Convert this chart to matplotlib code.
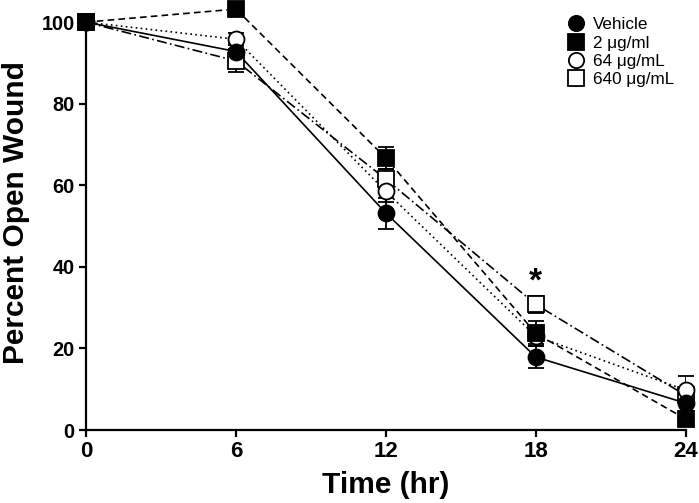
import matplotlib.pyplot as plt
import numpy as np

plt.rcParams['font.family'] = ['Liberation Sans', 'DejaVu Sans']

time = [0, 6, 12, 18, 24]
vehicle = [100, 92.8, 53.2, 17.9, 6.6]
vehicle_err = [0, 2.0, 3.8, 2.7, 2.0]
low = [100, 103.2, 66.7, 23.7, 2.7]
low_err = [0, 0, 2.8, 3.0, 1.5]
mid = [100, 95.8, 58.5, 23.0, 9.8]
mid_err = [0, 1.5, 2.5, 2.0, 3.4]
high = [100, 90.5, 61.5, 30.8, 8.5]
high_err = [0, 2.8, 2.5, 2.0, 2.0]
names = ['Vehicle', '2 \u03bcg/ml', '64 \u03bcg/mL', '640 \u03bcg/mL']

fig = plt.figure(figsize=(6.99, 5.03), dpi=100)
ax = fig.add_axes([0.123, 0.145, 0.858, 0.811])

series = [
    (high, high_err, 's', 'white', (0, (6, 2, 1, 2)), names[3]),
    (mid, mid_err, 'o', 'white', (0, (1, 2)), names[2]),
    (low, low_err, 's', 'black', (0, (4, 2.5)), names[1]),
    (vehicle, vehicle_err, 'o', 'black', '-', names[0]),
]
handles = {}
for vals, err, mk, fc, ls, nm in series:
    ax.errorbar(time, vals, yerr=err, color='black', ecolor='black', elinewidth=1.3,
                capsize=6, capthick=1.3, lw=1.2, ls=ls, zorder=3)
    h, = ax.plot(time, vals, ls='none', marker=mk, ms=11.5, mfc=fc, mec='black',
                 mew=1.3, zorder=4, label=nm)
    handles[nm] = h

ax.text(18, 32.5, '*', ha='center', va='bottom', fontsize=24, fontweight='bold')

ax.set_xlim(0, 24)
ax.set_ylim(0, 100)
ax.set_xticks([0, 6, 12, 18, 24])
ax.set_yticks([0, 20, 40, 60, 80, 100])
ax.spines['top'].set_visible(False)
ax.spines['right'].set_visible(False)
ax.spines['left'].set_linewidth(1.6)
ax.spines['bottom'].set_linewidth(1.6)
ax.tick_params(width=1.6, length=5, pad=3)
ax.tick_params(axis='x', labelsize=16)
ax.tick_params(axis='y', labelsize=14.3)
for lab in ax.get_xticklabels() + ax.get_yticklabels():
    lab.set_fontweight('bold')
ax.set_xlabel('Time (hr)', fontsize=21.5, fontweight='bold', labelpad=6)
ax.set_ylabel('Percent Open Wound', fontsize=21.5, fontweight='bold')
ax.yaxis.set_label_coords(-0.094, 0.534)

leg = ax.legend([handles[n] for n in names], names, loc='upper right',
                bbox_to_anchor=(1.007, 1.05), frameon=False, fontsize=12.3,
                handlelength=0.8, handletextpad=0.6, labelspacing=0.2)
for h in leg.legend_handles:
    h.set_markersize(11)

for ln in ax.lines:
    ln.set_clip_on(False)

fig.savefig('out.png', dpi=100)
